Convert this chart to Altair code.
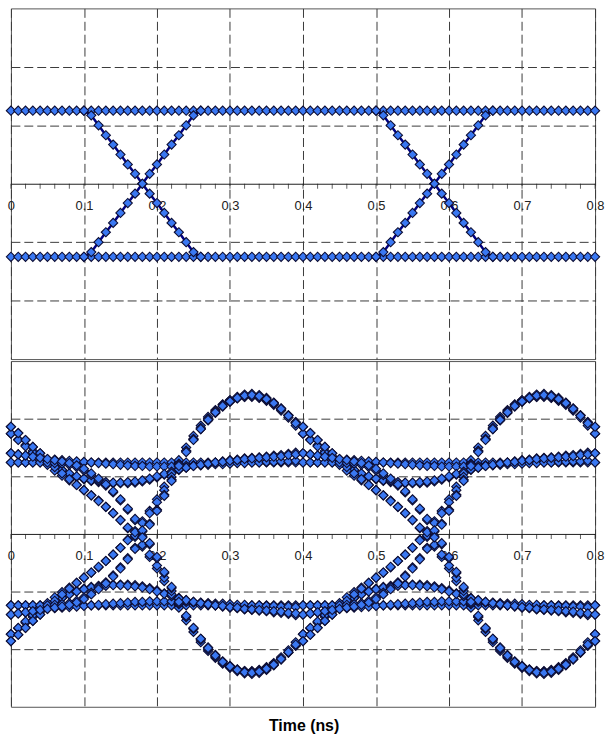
import altair as alt
import pandas as pd

FONT = "Liberation Sans"
FILL = "#3a78f2"
EDGE = "#0d0d33"
NAVY = "#000080"

# ---------------------------------------------------------------- axis values
major_ticks = [0.0, 0.1, 0.2, 0.3, 0.4, 0.5, 0.6, 0.7, 0.8]
minor_ticks = [round(i * 0.02, 2) for i in range(41)]
grid_levels = [-2, -1, 1, 2]

# sample instants: 10 ps steps, 0.4 ns unit interval
ui_times = [round(i * 0.01, 2) for i in range(40)]
ui_length = 0.4

# ---------------------------------------------------------------- ideal eye
level = 1.25
all_times = [round(i * 0.01, 2) for i in range(81)]
edge_starts = [0.10, 0.50]
ramp_up = [-1.25, -1.17, -1.00, -0.83, -0.67, -0.50, -0.33, -0.17, 0.00,
           0.17, 0.33, 0.50, 0.67, 0.83, 1.00, 1.17, 1.25]
ramp_down = [1.25, 1.17, 1.00, 0.83, 0.67, 0.50, 0.33, 0.17, 0.00,
             -0.17, -0.33, -0.50, -0.67, -0.83, -1.00, -1.17, -1.25]

# ---------------------------------------------------------------- received eye
# positive-rail trajectories over one unit interval (t = 0.00 ... 0.39 ns)
steady = [1.24] * 40
tail = [1.40, 1.38, 1.36, 1.34, 1.32, 1.30, 1.29, 1.28, 1.27, 1.26,
        1.25, 1.24, 1.23, 1.22, 1.21, 1.20, 1.19, 1.18, 1.18, 1.17,
        1.17, 1.17, 1.17, 1.18, 1.18, 1.19, 1.19, 1.20, 1.21, 1.21,
        1.22, 1.23, 1.23, 1.24, 1.24, 1.25, 1.25, 1.26, 1.26, 1.27]
sag = [1.86, 1.75, 1.63, 1.51, 1.40, 1.29, 1.19, 1.11, 1.04, 0.99,
       0.95, 0.92, 0.90, 0.89, 0.88, 0.88, 0.88, 0.89, 0.91, 0.94,
       0.98, 1.03, 1.07, 1.11, 1.15, 1.18, 1.20, 1.22, 1.24, 1.26,
       1.28, 1.29, 1.31, 1.32, 1.33, 1.34, 1.36, 1.37, 1.39, 1.41]
sag_b = [1.74, 1.64, 1.54, 1.44, 1.35, 1.26, 1.18, 1.11, 1.05, 1.00,
         0.96, 0.93, 0.91, 0.90, 0.89, 0.89, 0.90, 0.91, 0.93, 0.96,
         1.00, 1.04, 1.08, 1.12, 1.15, 1.18, 1.20, 1.22, 1.24, 1.25,
         1.27, 1.28, 1.30, 1.31, 1.32, 1.33, 1.34, 1.35, 1.37, 1.38]
fall_after_peak = [1.74, 1.63, 1.52, 1.41, 1.30, 1.20, 1.10, 1.01, 0.93, 0.85,
                   0.76, 0.67, 0.58, 0.47, 0.36, 0.24, 0.10, -0.05, -0.22, -0.40,
                   -0.60, -0.82, -1.05, -1.28, -1.50, -1.70, -1.88, -2.03, -2.15, -2.25,
                   -2.32, -2.36, -2.38, -2.38, -2.36, -2.31, -2.24, -2.14, -2.02, -1.88]
fall_after_peak_b = [1.86, 1.75, 1.63, 1.51, 1.40, 1.28, 1.16, 1.05, 0.95, 0.85,
                     0.76, 0.67, 0.57, 0.47, 0.36, 0.24, 0.11, -0.03, -0.19, -0.36,
                     -0.55, -0.76, -0.99, -1.22, -1.44, -1.64, -1.82, -1.97, -2.10, -2.21,
                     -2.29, -2.35, -2.38, -2.39, -2.37, -2.33, -2.26, -2.17, -2.06, -1.94]
fall_from_steady = [1.24, 1.24, 1.24, 1.24, 1.24, 1.24, 1.23, 1.22, 1.20, 1.16,
                    1.10, 1.02, 0.93, 0.84, 0.72, 0.58, 0.42, 0.24, 0.04, -0.18,
                    -0.42, -0.68, -0.94, -1.20, -1.44, -1.65, -1.84, -2.00, -2.13, -2.24,
                    -2.32, -2.38, -2.42, -2.43, -2.41, -2.36, -2.28, -2.18, -2.06, -1.94]
fall_from_tail = [1.40, 1.38, 1.36, 1.34, 1.32, 1.30, 1.28, 1.26, 1.23, 1.19,
                  1.13, 1.05, 0.96, 0.86, 0.74, 0.60, 0.44, 0.26, 0.06, -0.16,
                  -0.40, -0.66, -0.92, -1.18, -1.42, -1.63, -1.82, -1.98, -2.11, -2.22,
                  -2.30, -2.36, -2.40, -2.41, -2.39, -2.34, -2.27, -2.17, -2.05, -1.92]

positive_rail = {
    "steady": steady, "tail": tail, "sag": sag, "sag_b": sag_b,
    "fall_peak": fall_after_peak, "fall_peak_b": fall_after_peak_b,
    "fall_steady": fall_from_steady, "fall_tail": fall_from_tail,
}

# ---------------------------------------------------------------- tables
ideal_rows = []
for t in all_times:
    ideal_rows.append({"trace": "high", "t": t, "v": level})
    ideal_rows.append({"trace": "low", "t": t, "v": -level})
for k, start in enumerate(edge_starts):
    for j, (up, dn) in enumerate(zip(ramp_up, ramp_down)):
        t = round(start + j * 0.01, 2)
        ideal_rows.append({"trace": f"rise{k}", "t": t, "v": up})
        ideal_rows.append({"trace": f"fall{k}", "t": t, "v": dn})
ideal = pd.DataFrame(ideal_rows)

eye_rows = []
for name, values in positive_rail.items():
    for rail, sign in (("p", 1), ("n", -1)):
        for w in range(2):
            for t, v in zip(ui_times, values):
                eye_rows.append({"trace": f"{name}{rail}{w}",
                                 "t": round(t + w * ui_length, 2), "v": sign * v})
        eye_rows.append({"trace": f"{name}{rail}1", "t": 0.8, "v": sign * values[0]})
eye = pd.DataFrame(eye_rows)

ticks = pd.DataFrame({"t": minor_ticks, "v": [0.0] * len(minor_ticks)})

# ---------------------------------------------------------------- chart
W = 588
H_TOP = 353
H_BOT = 348

x_scale = alt.Scale(domain=[0, 0.8], nice=False, zero=False)
y_scale = alt.Scale(domain=[-3, 3], nice=False, zero=False)


def x_axis(height):
    return alt.Axis(values=major_ticks, format="~g", orient="bottom",
                    offset=-height / 2, title=None, ticks=False,
                    domain=True, domainColor="#1e1e1e", domainWidth=1,
                    labelFont=FONT, labelFontSize=13, labelColor="#222222",
                    labelPadding=16, labelFlush=False, labelOverlap=False,
                    grid=True, gridColor="#3a3a3a", gridDash=[9, 4],
                    gridWidth=1)


y_axis = alt.Axis(values=grid_levels, title=None, labels=False, ticks=False,
                  domain=False, grid=True, gridColor="#3a3a3a",
                  gridDash=[9, 4], gridWidth=1)


def panel(df, height, with_lines):
    x = alt.X("t:Q", scale=x_scale, axis=x_axis(height))
    y = alt.Y("v:Q", scale=y_scale, axis=y_axis)
    points = alt.Chart(df).mark_point(
        shape="diamond", filled=True, fill=FILL, stroke=EDGE,
        strokeWidth=1.1, size=85, opacity=1, fillOpacity=1,
    ).encode(x=x, y=y)
    minor = alt.Chart(ticks).mark_tick(
        orient="vertical", size=5, thickness=1, yOffset=2.5, color="#1e1e1e",
    ).encode(x=x, y=y)
    layers = []
    if with_lines:
        lines = alt.Chart(df).mark_line(color=NAVY, strokeWidth=2.5).encode(
            x=x, y=y, detail="trace:N", order="t:Q")
        layers.append(lines)
    layers += [minor, points]
    return alt.layer(*layers).properties(width=W, height=height)


top = panel(ideal, H_TOP, True)
bottom = panel(eye, H_BOT, False)

chart = alt.vconcat(top, bottom, spacing=0).properties(
    title=alt.TitleParams("Time (ns)", orient="bottom", anchor="middle",
                          fontSize=16, fontWeight="bold", font=FONT,
                          color="#000000", offset=11),
    padding={"left": 3, "top": 5, "right": 0, "bottom": 6},
).configure_view(stroke="#555555", strokeWidth=1)

chart.save("out.html", embed_options={"renderer": "svg", "actions": False})
